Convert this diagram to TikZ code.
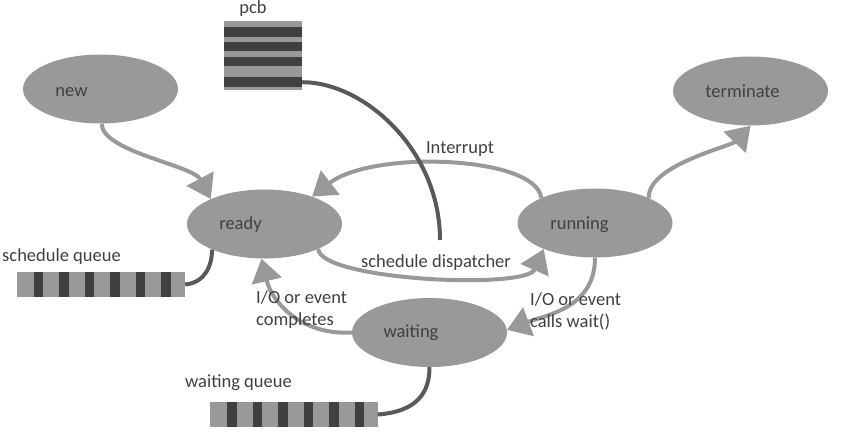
\documentclass[tikz,border=0pt]{standalone}
\usepackage{fontspec}
\setmainfont{Carlito}
\usetikzlibrary{shapes.geometric,arrows.meta,calc}
\definecolor{ellgray}{HTML}{999999}
\definecolor{bardark}{HTML}{404040}
\definecolor{linkdark}{HTML}{595959}
\definecolor{txt}{HTML}{404040}
\begin{document}
\begin{tikzpicture}[x=1pt,y=-1pt,
  state/.style={ellipse,fill=ellgray,inner sep=0pt,minimum width=155pt,minimum height=69pt},
  lbl/.style={text=txt,font=\fontsize{18.5}{22}\selectfont,inner sep=0pt},
  flow/.style={draw=ellgray,line width=4pt,-{Triangle[length=23pt,width=30pt]}},
  tether/.style={draw=linkdark,line width=4pt},
  queuebox/.style={fill=ellgray,inner sep=0pt,minimum width=168pt,minimum height=25pt},
  pcbbox/.style={fill=ellgray,inner sep=0pt,minimum width=78pt,minimum height=69pt},
  bar/.style={fill=bardark}
]
\useasboundingbox (0,0) rectangle (843,442);

% states
\node[state] (new) at (100.5,89) {};
\node[state] (terminate) at (750.5,91) {};
\node[state] (ready) at (264.5,224) {};
\node[state] (running) at (595,223) {};
\node[state] (waiting) at (429.5,332.5) {};

\node[lbl] (newt) at (71.5,92) {new};
\node[lbl] (terminatet) at (742.5,91) {terminate};
\node[lbl] (readyt) at (240.5,225) {ready};
\node[lbl] (runningt) at (579.5,225) {running};
\node[lbl] (waitingt) at (411,333) {waiting};

% queues
\node[queuebox] (sq) at (101,284.5) {};
\foreach \o in {17,42.5,68,93.5,119,144.5}
  \fill[bar] ($(sq.west)+(\o,-12.5)$) rectangle ++(9.5,25);
\node[queuebox] (wq) at (293.5,414.5) {};
\foreach \o in {18,43.5,69,94.5,120,145.5}
  \fill[bar] ($(wq.west)+(\o,-12.5)$) rectangle ++(9.5,25);
\node[pcbbox] (pcb) at (263,55.5) {};
\foreach \a/\b in {6/16,21/30,36/45,56/66}
  \fill[bar] ($(pcb.north west)+(0,\a)$) rectangle ($(pcb.north east)+(0,\b)$);

\node[lbl,anchor=west] (sqt) at (2,257) {schedule queue};
\node[lbl,anchor=west] (wqt) at (185,383) {waiting queue};
\node[lbl] (pcbt) at (253,9) {pcb};

% connectors
\draw[flow] (new.272) .. controls +(0,28) and +(-18,-34) .. (ready.155);
\draw[flow] (running.155) .. controls +(-5,-42) and +(61,-47) .. (ready.30);
\draw[flow] (ready.335) .. controls +(2,31) and +(-18,41) .. (running.207);
\draw[flow] (running.25) .. controls +(-1,-33) and +(-20,21) .. (terminate.270);
\draw[flow] (running.270) .. controls +(0,50) and +(40,-15) .. (waiting.2);
\draw[flow] (waiting.180) .. controls +(-52,3) and +(10,42) .. (ready.265);

\draw[tether] (sq.east) .. controls +(20,-2) and +(0,16) .. (ready.206);
\draw[tether] (wq.east) .. controls +(40,-3) and +(0,25) .. (waiting.270);
\coordinate (pcbend) at (440,240);
\draw[tether] ($(pcb.south east)+(0,-8)$) .. controls +(62,0) and +(0,-90) .. (pcbend);

% labels
\node[lbl] (intt) at (460,149) {Interrupt};
\node[lbl] (dispt) at (436,263) {schedule dispatcher};
\node[lbl,anchor=west,align=left] (waitt) at (530,311) {I/O or event\\calls wait()};
\node[lbl,anchor=west,align=left] (compt) at (256,310) {I/O or event\\completes};
\end{tikzpicture}
\end{document}
